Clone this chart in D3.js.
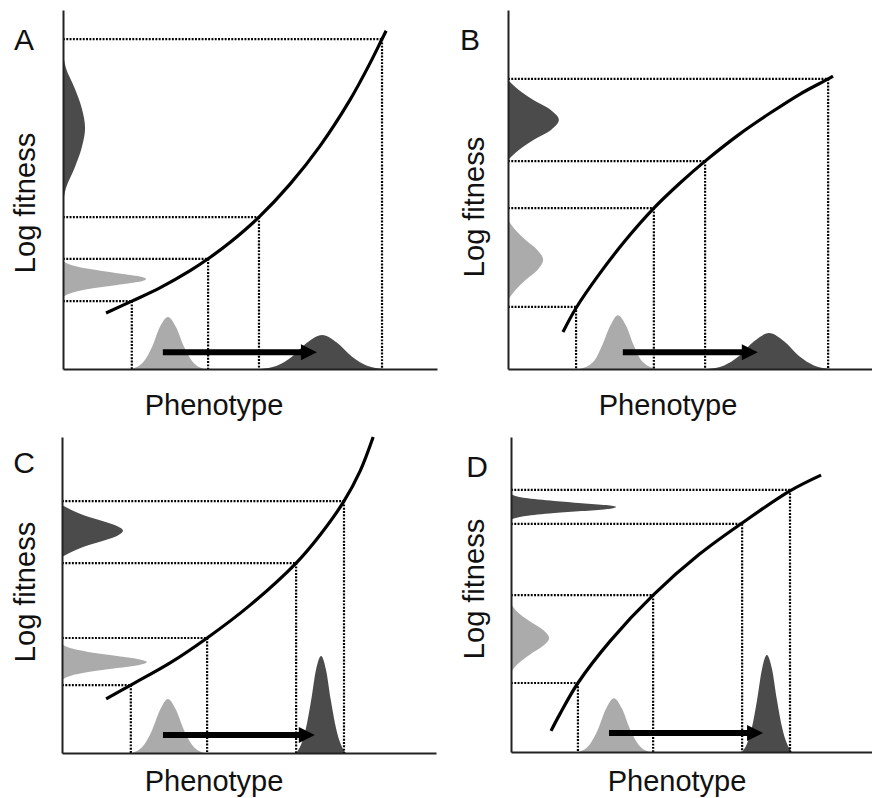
<!DOCTYPE html>
<html>
<head>
<meta charset="utf-8">
<script src="https://cdn.jsdelivr.net/npm/d3@7"></script>
<style>
  body { margin: 0; background: #fff; }
  svg { display: block; font-family: "Liberation Sans", Arial, sans-serif; }
</style>
</head>
<body>
<svg id="chart" width="872" height="798"></svg>
<script>
// labels
const panelLetters = ['A', 'B', 'C', 'D'];
const xLabel = 'Phenotype';
const yLabel = 'Log fitness';

// all values in axis units: phenotype 0..10, log fitness 0..10
// curves: [phenotype, fitness]
const curveA = [[1.15,1.56],[1.84,1.89],[2.59,2.26],[3.40,2.74],[3.88,3.07],[4.47,3.53],[5.24,4.23],[6.07,5.15],[6.87,6.21],[7.67,7.49],[8.21,8.52],[8.53,9.19],[8.64,9.42]];
const curveB = [[1.47,1.03],[1.82,1.70],[2.46,2.67],[3.13,3.57],[3.90,4.48],[4.60,5.18],[5.27,5.79],[6.20,6.55],[7.01,7.13],[7.81,7.66],[8.56,8.08],[8.69,8.16]];
const curveC = [[1.18,1.71],[1.84,2.15],[2.89,2.85],[3.88,3.64],[5.03,4.68],[6.26,6.01],[6.90,6.90],[7.54,7.97],[7.97,8.92],[8.32,10.0]];
const curveD = [[1.07,0.67],[1.31,1.21],[1.79,2.19],[2.65,3.52],[3.80,4.98],[5.05,6.29],[6.18,7.27],[7.46,8.29],[8.29,8.79]];

// dotted guide points on the curve: [phenotype, fitness]
const guidesA = [[1.84,1.89],[3.88,3.07],[5.24,4.23],[8.53,9.19]];
const guidesB = [[1.82,1.73],[3.90,4.48],[5.27,5.79],[8.56,8.08]];
const guidesC = [[1.84,2.15],[3.88,3.64],[6.26,6.01],[7.54,7.97]];
const guidesD = [[1.79,2.19],[3.80,4.98],[6.18,7.24],[7.46,8.32]];

// phenotype distributions (on x axis): [phenotype, density]
const phenoLightA = [[1.84,0],[2.17,0.22],[2.38,0.61],[2.59,1.17],[2.81,1.45],[3.02,1.17],[3.24,0.61],[3.45,0.22],[3.77,0]];
const phenoDarkA = [[5.27,0],[5.72,0.09],[6.12,0.34],[6.52,0.73],[6.93,0.95],[7.33,0.73],[7.73,0.34],[8.13,0.09],[8.58,0]];
const phenoLightB = [[1.93,0],[2.30,0.22],[2.51,0.64],[2.73,1.20],[2.94,1.50],[3.16,1.20],[3.37,0.64],[3.58,0.22],[3.96,0]];
const phenoDarkB = [[5.32,0],[5.78,0.10],[6.18,0.36],[6.58,0.77],[6.98,1.00],[7.38,0.77],[7.78,0.36],[8.18,0.10],[8.64,0]];
const phenoLightC = [[1.87,0],[2.19,0.25],[2.41,0.73],[2.62,1.36],[2.83,1.71],[3.05,1.36],[3.26,0.73],[3.48,0.25],[3.80,0]];
const phenoDarkC = [[6.26,0],[6.39,0.26],[6.52,0.77],[6.66,1.66],[6.79,2.63],[6.93,3.07],[7.06,2.63],[7.19,1.66],[7.33,0.77],[7.46,0.26],[7.59,0]];
const phenoLightD = [[1.79,0],[2.11,0.25],[2.33,0.73],[2.54,1.37],[2.75,1.71],[2.97,1.37],[3.18,0.73],[3.40,0.25],[3.72,0]];
const phenoDarkD = [[6.18,0],[6.31,0.26],[6.44,0.77],[6.58,1.66],[6.71,2.63],[6.84,3.08],[6.98,2.63],[7.11,1.66],[7.25,0.77],[7.38,0.26],[7.51,0]];

// fitness distributions (on y axis): [fitness, density]
const fitLightA = [[2.01,0],[2.12,0.22],[2.23,0.68],[2.34,1.45],[2.42,1.99],[2.51,2.22],[2.59,1.99],[2.67,1.45],[2.79,0.68],[2.90,0.22],[3.01,0]];
const fitDarkA = [[4.62,0],[5.04,0.08],[5.60,0.31],[6.16,0.50],[6.71,0.59],[7.27,0.50],[7.83,0.31],[8.38,0.08],[8.80,0]];
const fitLightB = [[1.92,0],[2.20,0.20],[2.48,0.47],[2.76,0.79],[3.04,0.94],[3.31,0.79],[3.59,0.47],[3.87,0.20],[4.15,0]];
const fitDarkB = [[5.82,0],[6.10,0.29],[6.38,0.68],[6.66,1.15],[6.94,1.36],[7.21,1.15],[7.49,0.68],[7.77,0.29],[8.05,0]];
const fitLightC = [[2.31,0],[2.44,0.22],[2.56,0.70],[2.69,1.48],[2.78,2.04],[2.88,2.27],[2.97,2.04],[3.07,1.48],[3.20,0.70],[3.32,0.22],[3.45,0]];
const fitDarkC = [[6.20,0],[6.39,0.31],[6.55,0.64],[6.71,1.08],[6.87,1.47],[7.03,1.63],[7.18,1.47],[7.34,1.08],[7.50,0.64],[7.66,0.31],[7.85,0]];
const fitLightD = [[2.54,0],[2.79,0.18],[3.08,0.49],[3.37,0.86],[3.62,1.02],[3.87,0.86],[4.16,0.49],[4.44,0.18],[4.70,0]];
const fitDarkD = [[7.37,0],[7.49,0.38],[7.59,1.16],[7.65,1.89],[7.71,2.54],[7.78,2.81],[7.84,2.54],[7.90,1.89],[7.97,1.16],[8.06,0.38],[8.19,0]];

// shift arrows: [start, end] as [phenotype, fitness]
const arrowA = [[2.67,0.47],[6.79,0.47]];
const arrowB = [[3.07,0.47],[6.68,0.47]];
const arrowC = [[2.70,0.57],[6.76,0.57]];
const arrowD = [[2.62,0.60],[6.74,0.60]];

const panels = [
  { curve: curveA, guides: guidesA, phenoLight: phenoLightA, phenoDark: phenoDarkA, fitLight: fitLightA, fitDark: fitDarkA, arrow: arrowA },
  { curve: curveB, guides: guidesB, phenoLight: phenoLightB, phenoDark: phenoDarkB, fitLight: fitLightB, fitDark: fitDarkB, arrow: arrowB },
  { curve: curveC, guides: guidesC, phenoLight: phenoLightC, phenoDark: phenoDarkC, fitLight: fitLightC, fitDark: fitDarkC, arrow: arrowC },
  { curve: curveD, guides: guidesD, phenoLight: phenoLightD, phenoDark: phenoDarkD, fitLight: fitLightD, fitDark: fitDarkD, arrow: arrowD },
];

// layout of each panel (pixels)
const frames = [
  { x0: 63,  y0: 369, w: 374, h: 359, letter: [24, 50],   yLab: [35, 203],  xLab: [214, 415] },
  { x0: 508, y0: 369, w: 374, h: 359, letter: [470, 50],  yLab: [484, 207], xLab: [668, 415] },
  { x0: 62,  y0: 753, w: 374, h: 316, letter: [24, 473],  yLab: [35, 592],  xLab: [214, 791] },
  { x0: 511, y0: 752, w: 374, h: 315, letter: [477, 477], yLab: [484, 589], xLab: [677, 791] },
];

const lightFill = '#ababab';
const darkFill = '#4b4b4b';

const svg = d3.select('#chart');

panels.forEach((p, i) => {
  const f = frames[i];
  const x = d3.scaleLinear().domain([0, 10]).range([f.x0, f.x0 + f.w]);
  const y = d3.scaleLinear().domain([0, 10]).range([f.y0, f.y0 - f.h]);
  const g = svg.append('g').attr('class', 'panel');

  // distributions along phenotype axis
  const phenoArea = d3.area()
    .x(d => x(d[0]))
    .y0(y(0))
    .y1(d => y(d[1]))
    .curve(d3.curveMonotoneX);
  g.append('path').attr('d', phenoArea(p.phenoLight)).attr('fill', lightFill);
  g.append('path').attr('d', phenoArea(p.phenoDark)).attr('fill', darkFill);

  // distributions along fitness axis
  const fitArea = d3.area()
    .y(d => y(d[0]))
    .x0(x(0))
    .x1(d => x(d[1]))
    .curve(d3.curveMonotoneY);
  g.append('path').attr('d', fitArea(p.fitLight)).attr('fill', lightFill);
  g.append('path').attr('d', fitArea(p.fitDark)).attr('fill', darkFill);

  // dotted projections
  const dots = g.append('g')
    .attr('stroke', '#000')
    .attr('stroke-width', 2.2)
    .attr('stroke-dasharray', '1.9,1.4');
  dots.selectAll('line.h').data(p.guides).join('line')
    .attr('class', 'h')
    .attr('x1', x(0)).attr('x2', d => x(d[0]))
    .attr('y1', d => y(d[1])).attr('y2', d => y(d[1]));
  dots.selectAll('line.v').data(p.guides).join('line')
    .attr('class', 'v')
    .attr('x1', d => x(d[0])).attr('x2', d => x(d[0]))
    .attr('y1', d => y(d[1])).attr('y2', y(0));

  // axes (no ticks)
  const xAxis = g.append('g')
    .attr('transform', `translate(0, ${y(0)})`)
    .call(d3.axisBottom(x).ticks(0).tickSizeOuter(0));
  const yAxis = g.append('g')
    .attr('transform', `translate(${x(0)}, 0)`)
    .call(d3.axisLeft(y).ticks(0).tickSizeOuter(0));
  [xAxis, yAxis].forEach(a => a.select('.domain').attr('stroke', '#222').attr('stroke-width', 2));

  // fitness function
  const line = d3.line().x(d => x(d[0])).y(d => y(d[1])).curve(d3.curveCatmullRom.alpha(0.5));
  g.append('path')
    .attr('d', line(p.curve))
    .attr('fill', 'none')
    .attr('stroke', '#000')
    .attr('stroke-width', 3.2);

  // arrow
  const [s, e] = p.arrow;
  const ax1 = x(s[0]), ax2 = x(e[0]), ay = y(s[1]);
  const headLen = 16, headHalf = 8;
  g.append('line')
    .attr('x1', ax1).attr('x2', ax2 - headLen + 1)
    .attr('y1', ay).attr('y2', ay)
    .attr('stroke', '#000')
    .attr('stroke-width', 6);
  g.append('path')
    .attr('d', `M${ax2},${ay}L${ax2 - headLen},${ay - headHalf}L${ax2 - headLen},${ay + headHalf}Z`)
    .attr('fill', '#000');

  // texts
  g.append('text')
    .attr('x', f.letter[0]).attr('y', f.letter[1])
    .attr('text-anchor', 'middle')
    .attr('font-size', 30)
    .attr('fill', '#111')
    .text(panelLetters[i]);
  g.append('text')
    .attr('transform', `translate(${f.yLab[0]}, ${f.yLab[1]}) rotate(-90)`)
    .attr('text-anchor', 'middle')
    .attr('font-size', 29)
    .attr('fill', '#111')
    .text(yLabel);
  g.append('text')
    .attr('x', f.xLab[0]).attr('y', f.xLab[1])
    .attr('text-anchor', 'middle')
    .attr('font-size', 29)
    .attr('fill', '#111')
    .text(xLabel);
});
</script>
</body>
</html>
